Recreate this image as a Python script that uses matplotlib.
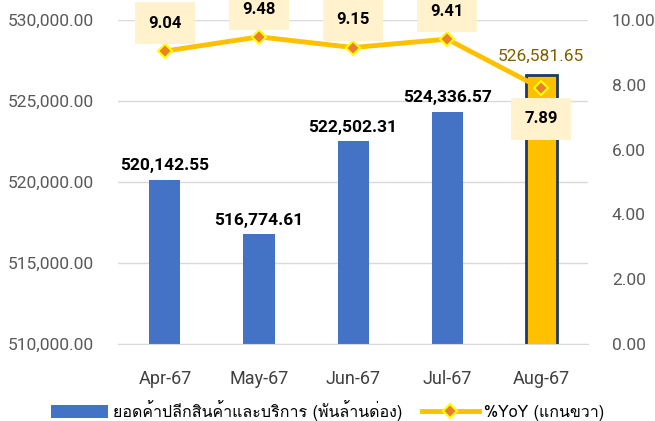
import matplotlib
matplotlib.use("Agg")
import matplotlib.pyplot as plt
import numpy as np
from matplotlib.patches import Patch
from matplotlib.lines import Line2D
from matplotlib.ticker import FuncFormatter

months = ["Apr-67", "May-67", "Jun-67", "Jul-67", "Aug-67"]
sales = [520142.55, 516774.61, 522502.31, 524336.57, 526581.65]
yoy = [9.04, 9.48, 9.15, 9.41, 7.89]
bar_name = "ยอดค้าปลีกสินค้าและบริการ (พันล้านด่อง)"
line_name = "%YoY (แกนขวา)"

plt.rcParams['font.family'] = ['Roboto', 'Loma', 'DejaVu Sans']

blue = "#4472C4"
gold = "#FFC000"
grid_c = "#D9D9D9"
tick_c = "#595959"

fig = plt.figure(figsize=(6.55, 4.21), dpi=100)
ax = fig.add_axes([0.180, 0.183, 0.718, 0.7695])
ax2 = ax.twinx()

x = np.arange(len(months))
colors = [blue] * (len(months) - 1) + [gold]
bars = ax.bar(x, sales, width=0.33, color=colors, zorder=2)
bars[-1].set_edgecolor("#203864")
bars[-1].set_linewidth(2)

ax.set_ylim(510000, 530000)
ax.set_xlim(-0.5, len(months) - 0.5)
ax.set_yticks(np.arange(510000, 530001, 5000))
ax.yaxis.set_major_formatter(FuncFormatter(lambda v, p: f"{v:,.2f}"))
ax.grid(axis='y', color=grid_c, linewidth=1, zorder=0)
ax.set_axisbelow(True)
ax.set_xticks(x)
ax.set_xticklabels(months)
for s in ["top", "left", "right"]:
    ax.spines[s].set_visible(False)
    ax2.spines[s].set_visible(False)
ax.spines["bottom"].set_color(grid_c)
ax2.spines["bottom"].set_visible(False)
ax.tick_params(axis='y', length=0, labelsize=12.5, labelcolor=tick_c, pad=17)
ax.tick_params(axis='x', length=0, labelsize=13, labelcolor="#404040", pad=19)

for i, v in enumerate(sales):
    if i == len(sales) - 1:
        ax.annotate(f"{v:,.2f}", (x[i], v), xytext=(0, 14), textcoords="offset points",
                    ha="center", va="center", fontsize=12.5, color="#7F6000")
    else:
        ax.annotate(f"{v:,.2f}", (x[i], v), xytext=(0, 10), textcoords="offset points",
                    ha="center", va="center", fontsize=12.5, fontweight="bold", color="black")

ax2.plot(x, yoy, color=gold, linewidth=3.5, marker="D", markersize=7,
         markerfacecolor="#ED7D31", markeredgecolor="#FFFF00", markeredgewidth=1.5, zorder=5)
ax2.set_ylim(0, 10)
ax2.set_yticks(np.arange(0, 10.01, 2))
ax2.yaxis.set_major_formatter(FuncFormatter(lambda v, p: f"{v:.2f}"))
ax2.tick_params(axis='y', length=0, labelsize=12.5, labelcolor=tick_c, pad=17)

for i, v in enumerate(yoy):
    dy = -22 if i == len(yoy) - 1 else 20
    ax2.annotate(f"{v:.2f}", (x[i], v), xytext=(0, dy), textcoords="offset points",
                 ha="center", va="center", fontsize=12, fontweight="bold", color="black",
                 bbox=dict(boxstyle="square,pad=0.8", fc="#FFF2CC", ec="none"), zorder=6)

handles = [Patch(facecolor=blue, edgecolor="none"),
           Line2D([0], [0], color=gold, linewidth=3.5, marker="D", markersize=7,
                  markerfacecolor="#ED7D31", markeredgecolor="#FFFF00", markeredgewidth=1.5)]
fig.legend(handles, [bar_name, line_name], loc="center", bbox_to_anchor=(0.5, 0.025),
           ncol=2, frameon=False, prop={'family': ['Loma', 'Roboto'], 'size': 11.5},
           handlelength=3.6, handleheight=0.9, columnspacing=1.2, handletextpad=0.3)

fig.savefig("out.png", dpi=100)
